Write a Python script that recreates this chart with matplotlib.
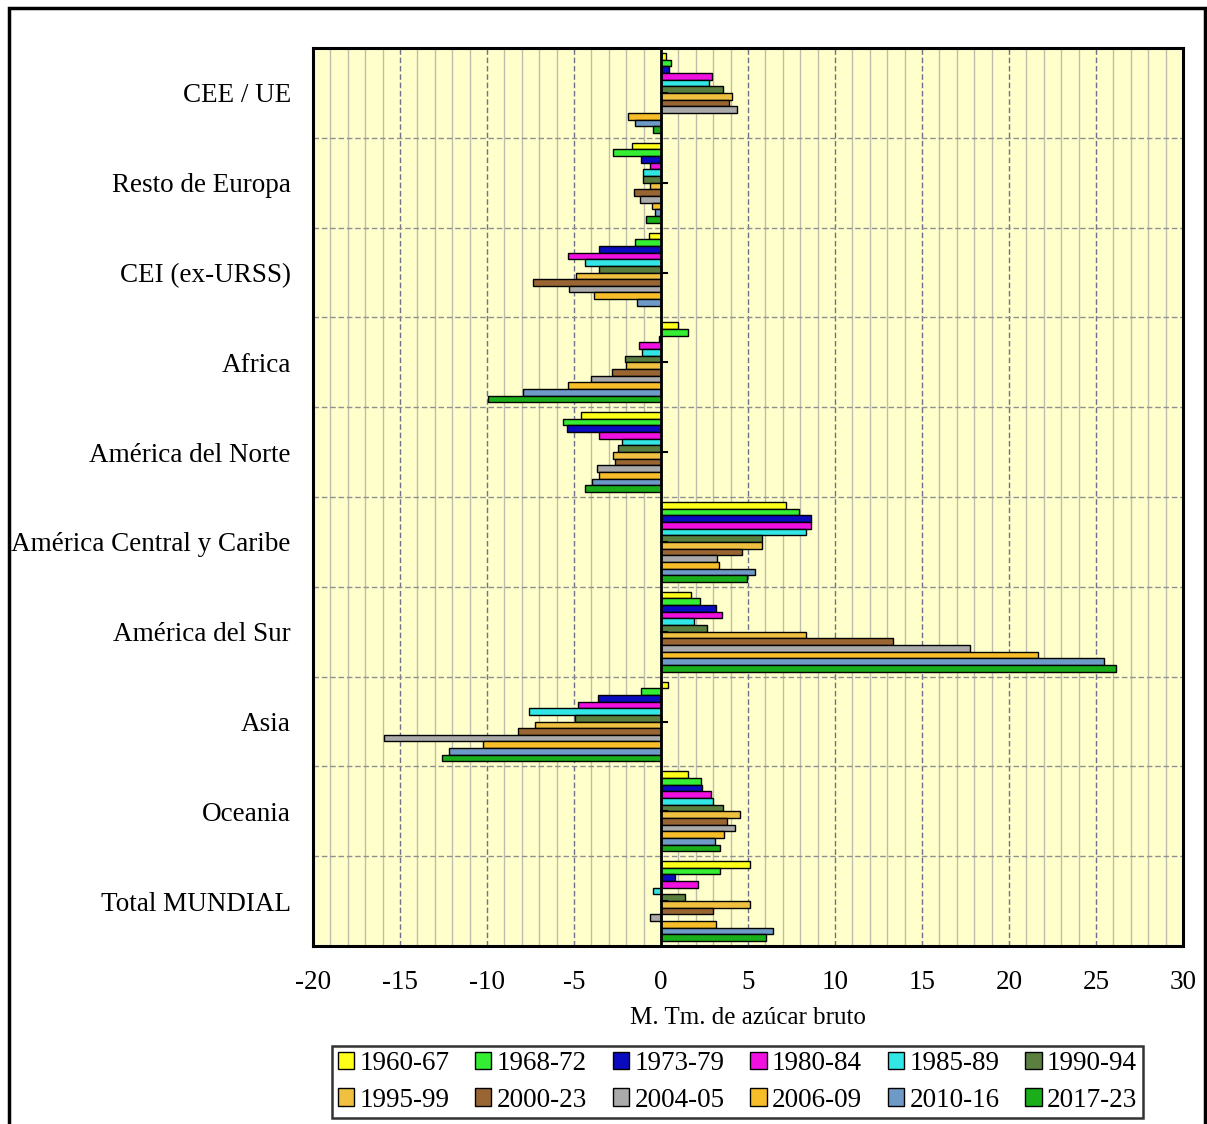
import matplotlib
matplotlib.use("Agg")
import matplotlib.pyplot as plt
from matplotlib.patches import Rectangle, Patch

plt.rcParams["font.family"] = ["Liberation Serif", "DejaVu Serif"]

regions = ["CEE / UE", "Resto de Europa", "CEI (ex-URSS)", "Africa",
           "América del Norte", "América Central y Caribe", "América del Sur",
           "Asia", "Oceania", "Total MUNDIAL"]
periods = ["1960-67", "1968-72", "1973-79", "1980-84", "1985-89", "1990-94",
           "1995-99", "2000-23", "2004-05", "2006-09", "2010-16", "2017-23"]
colors = ["#FFFF1A", "#33EE33", "#0A0ABF", "#F011E0", "#33E6E6", "#5A7F3F",
          "#F0C040", "#996633", "#AAAAAA", "#F8BE2A", "#6E9AC8", "#1AAF1A"]

# net balance per region (M. Tm. raw sugar), one list per period
v1960_67 = [0.3, -1.64, -0.71, 0.97, -4.62, 7.19, 1.72, 0.41, 1.58, 5.10]
v1968_72 = [0.55, -2.74, -1.49, 1.58, -5.62, 7.95, 2.22, -1.14, 2.28, 3.38]
v1973_79 = [0.45, -1.14, -3.54, -0.13, -5.39, 8.64, 3.15, -3.61, 2.38, 0.83]
v1980_84 = [2.94, -0.62, -5.37, -1.29, -3.59, 8.64, 3.48, -4.77, 2.86, 2.15]
v1985_89 = [2.76, -1.04, -4.37, -1.12, -2.24, 8.31, 1.89, -7.59, 2.96, -0.46]
v1990_94 = [3.54, -1.04, -3.54, -2.07, -2.49, 5.79, 2.65, -4.97, 3.54, 1.39]
v1995_99 = [4.10, -0.62, -4.89, -2.03, -2.74, 5.79, 8.31, -7.25, 4.56, 5.10]
v2000_23 = [3.90, -1.57, -7.34, -2.82, -2.67, 4.67, 13.31, -8.19, 3.81, 2.98]
v2004_05 = [4.39, -1.22, -5.31, -4.02, -3.69, 3.21, 17.78, -15.92, 4.23, -0.63]
v2006_09 = [-1.90, -0.54, -3.85, -5.37, -3.54, 3.31, 21.66, -10.22, 3.61, 3.15]
v2010_16 = [-1.49, -0.35, -1.37, -7.94, -3.98, 5.40, 25.46, -12.17, 3.13, 6.46]
v2017_23 = [-0.44, -0.89, 0.0, -9.95, -4.35, 4.93, 26.13, -12.60, 3.38, 6.03]
series = [v1960_67, v1968_72, v1973_79, v1980_84, v1985_89, v1990_94,
          v1995_99, v2000_23, v2004_05, v2006_09, v2010_16, v2017_23]

W, H = 1207, 1124
fig = plt.figure(figsize=(W / 100, H / 100), dpi=100)
ax = fig.add_axes([313 / W, 1 - 946 / H, (1183 - 313) / W, (946 - 48) / H])
ax.set_facecolor("#FFFFCC")

n = len(series)
bh = 0.89 / n
ypos = list(range(len(regions)))
handles = []
for j, (vals, col) in enumerate(zip(series, colors)):
    ys = [y + (j - (n - 1) / 2) * bh for y in ypos]
    ax.barh(ys, vals, height=bh, color=col, edgecolor="black",
            linewidth=1.0, zorder=3)
    handles.append(Patch(facecolor=col, edgecolor="black", linewidth=1.0))

ax.set_xlim(-20, 30)
ax.set_ylim(len(regions) - 0.5, -0.5)

# grid: thin solid every unit, dashed every 5, dashed between regions
for x in range(-19, 30):
    if x % 5 == 0:
        ax.axvline(x, color="#707088", lw=1.0, ls=(0, (4, 2)), zorder=1)
    else:
        ax.axvline(x, color="#BDBDAD", lw=1.0, zorder=1)
for k in range(1, len(regions)):
    ax.axhline(k - 0.5, color="#909090", lw=1.0, ls=(0, (4, 2)), zorder=1)

ax.axvline(0, color="black", lw=2.0, zorder=4)
for y in ypos:
    ax.plot([0, 0.35], [y, y], color="black", lw=1.5, zorder=4)

ax.set_yticks(ypos)
ax.set_yticklabels(regions, fontsize=19.5)
ax.tick_params(axis="y", length=0, pad=16)
ax.set_xticks(range(-20, 31, 5))
ax.set_xticklabels([str(v) for v in range(-20, 31, 5)], fontsize=19.5)
ax.tick_params(axis="x", length=0, pad=17)
ax.set_xlabel("M. Tm. de azúcar bruto", fontsize=18, labelpad=9)
for s in ax.spines.values():
    s.set_linewidth(2.2)
    s.set_color("black")

order = [0, 6, 1, 7, 2, 8, 3, 9, 4, 10, 5, 11]
leg = fig.legend([handles[i] for i in order], [periods[i] for i in order],
                 ncol=6, loc="lower center",
                 bbox_to_anchor=((330 + 1145) / 2 / W, 6 / H),
                 borderaxespad=0,
                 fontsize=19.5, frameon=True, fancybox=False,
                 handlelength=0.6, handleheight=0.6, handletextpad=0.2,
                 columnspacing=0.95, borderpad=0.2, labelspacing=0.42)
leg.get_frame().set_edgecolor("black")
leg.get_frame().set_linewidth(1.8)

fig.patches.append(Rectangle((9 / W, -0.02), (1205 - 9) / W, 1 - 8 / H + 0.02,
                             transform=fig.transFigure, fill=False,
                             edgecolor="black", lw=2.5))

fig.savefig("out.png", dpi=100)
